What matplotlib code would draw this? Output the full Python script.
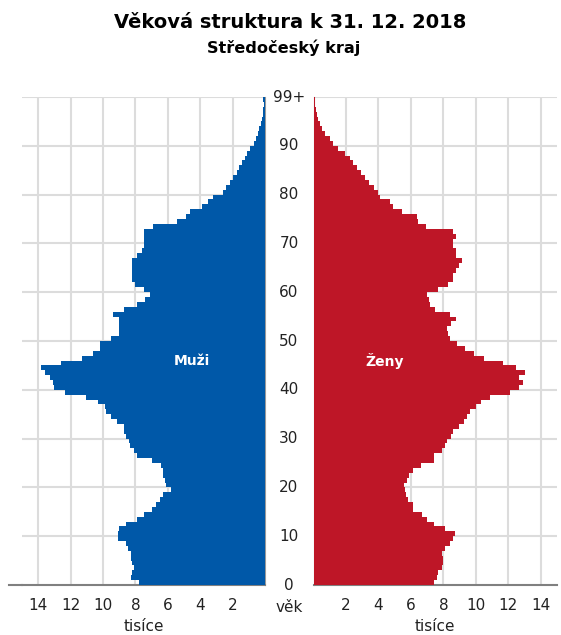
import matplotlib
matplotlib.use("Agg")
import matplotlib.pyplot as plt
import matplotlib.transforms as mtransforms
from matplotlib.lines import Line2D
import numpy as np

# ages 0 .. 99+ (thousands of persons)
AGES = np.arange(100)
MEN = [
    7.75, 8.3, 8.2, 8.1, 8.2, 8.3, 8.3, 8.45, 8.55, 9.05,
    9.05, 9.0, 8.6, 7.9, 7.5, 7.0, 6.7, 6.5, 6.3, 5.8,
    6.1, 6.2, 6.3, 6.3, 6.4, 7.0, 7.9, 8.1, 8.35, 8.4,
    8.6, 8.7, 8.7, 9.15, 9.5, 9.8, 9.9, 10.3, 11.05, 12.35,
    13.0, 13.1, 13.3, 13.6, 13.8, 12.6, 11.3, 10.6, 10.2, 10.2,
    9.5, 9.0, 9.0, 9.0, 9.0, 9.4, 8.7, 7.9, 7.4, 7.1,
    7.5, 8.0, 8.2, 8.2, 8.2, 8.2, 8.2, 7.9, 7.6, 7.5,
    7.5, 7.5, 7.5, 6.9, 5.45, 4.85, 4.6, 3.9, 3.5, 3.2,
    2.6, 2.4, 2.15, 1.95, 1.75, 1.6, 1.45, 1.25, 1.1, 0.9,
    0.7, 0.55, 0.45, 0.35, 0.27, 0.2, 0.15, 0.1, 0.07, 0.1,
]
WOMEN = [
    7.4, 7.6, 7.7, 7.9, 8.0, 7.95, 7.9, 8.1, 8.4, 8.6,
    8.7, 8.1, 7.4, 7.0, 6.7, 6.15, 6.15, 5.85, 5.7, 5.65,
    5.55, 5.75, 5.9, 6.15, 6.6, 7.4, 7.45, 7.9, 8.1, 8.2,
    8.5, 8.6, 8.95, 9.25, 9.45, 9.65, 10.0, 10.3, 10.9, 12.1,
    12.65, 12.9, 12.65, 13.05, 12.5, 11.7, 10.5, 9.9, 9.35, 8.85,
    8.4, 8.3, 8.2, 8.5, 8.8, 8.4, 7.5, 7.2, 7.1, 7.0,
    7.7, 8.3, 8.6, 8.6, 8.8, 8.95, 9.15, 8.8, 8.8, 8.6,
    8.6, 8.8, 8.6, 6.9, 6.45, 6.35, 5.45, 4.9, 4.7, 4.1,
    4.0, 3.7, 3.4, 3.2, 2.95, 2.7, 2.45, 2.25, 1.95, 1.5,
    1.2, 1.0, 0.7, 0.55, 0.4, 0.3, 0.2, 0.15, 0.1, 0.1,
]
X_TICKS = [2, 4, 6, 8, 10, 12, 14]
AGE_TICKS = [0, 10, 20, 30, 40, 50, 60, 70, 80, 90, 100]
AGE_LABELS = ["0", "10", "20", "30", "40", "50", "60", "70", "80", "90", "99+"]

BLUE = "#0058a8"
RED = "#be1627"
GRID = "#dcdcdc"
TXT = "#222222"

W, H = 561, 635
fig = plt.figure(figsize=(W / 100, H / 100), dpi=100)
fig.patch.set_facecolor("white")

bottom = (H - 585) / H
height = 488 / H
ax_l = fig.add_axes([22 / W, bottom, 243 / W, height])
ax_r = fig.add_axes([313.5 / W, bottom, 243.5 / W, height])

for ax, vals, col in [(ax_l, MEN, BLUE), (ax_r, WOMEN, RED)]:
    ax.barh(AGES, vals, height=1.0, align="edge", color=col,
            linewidth=0, zorder=3)
    ax.set_xlim(0, 15)
    ax.set_ylim(0, 100)
    ax.set_xticks(X_TICKS)
    ax.set_xticklabels([str(t) for t in X_TICKS], fontsize=11, color=TXT)
    ax.set_yticks(AGE_TICKS[1:])
    ax.set_yticklabels([])
    ax.tick_params(axis="both", length=0)
    ax.tick_params(axis="x", pad=9)
    ax.grid(True, color=GRID, linewidth=1.5, zorder=0)
    ax.set_axisbelow(True)
    for s in ax.spines.values():
        s.set_visible(False)
    ax.spines["bottom"].set_visible(True)
    ax.spines["bottom"].set_color("#808080")
    ax.spines["bottom"].set_linewidth(1.5)
    ax.set_xlabel("tisíce", fontsize=11, color=TXT, labelpad=5)

ax_l.invert_xaxis()
ax_l.spines["right"].set_visible(True)
ax_l.spines["right"].set_color("#999999")
ax_r.spines["left"].set_visible(True)
ax_r.spines["left"].set_color("#999999")

# base line runs a little further left than the grid
fig.add_artist(Line2D([9 / W, 22 / W], [bottom, bottom], color="#808080",
                      linewidth=1.5, transform=fig.transFigure))

ax_l.text(4.5, 46, "Muži", color="white", fontsize=10, fontweight="bold",
          ha="center", va="center", zorder=5)
ax_r.text(4.4, 46, "Ženy", color="white", fontsize=10, fontweight="bold",
          ha="center", va="center", zorder=5)

# age labels in the gap between the two halves
trans = mtransforms.blended_transform_factory(fig.transFigure, ax_r.transData)
for a, lbl in zip(AGE_TICKS, AGE_LABELS):
    fig.text(289 / W, a, lbl, transform=trans, ha="center", va="center",
             fontsize=11, color=TXT)
fig.text(289 / W, 1 - 607 / H, "věk", ha="center", va="center",
         fontsize=11, color=TXT)

fig.text(290 / W, 1 - 22 / H, "Věková struktura k 31. 12. 2018", ha="center",
         va="center", fontsize=14, fontweight="bold")
fig.text(284 / W, 1 - 48 / H, "Středočeský kraj", ha="center", va="center",
         fontsize=11.6, fontweight="bold")

fig.savefig("out.png", dpi=100, facecolor="white")
